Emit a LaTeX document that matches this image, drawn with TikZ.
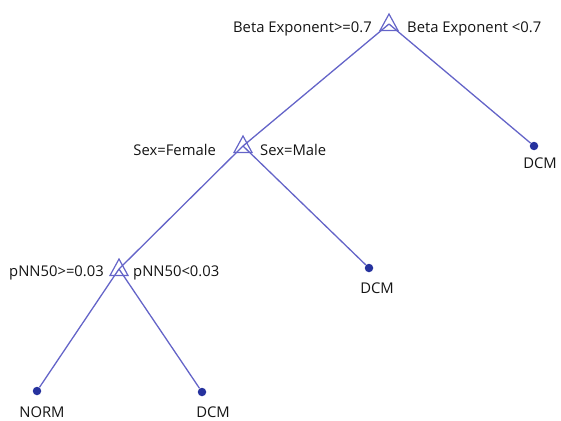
\documentclass[tikz,border=0pt]{standalone}
\usepackage{fontspec}
\setmainfont{Open Sans}
\usetikzlibrary{calc}
\definecolor{edgecol}{RGB}{100,100,200}
\definecolor{dotcol}{RGB}{38,50,158}
\definecolor{txtcol}{RGB}{20,20,20}
\begin{document}
\begin{tikzpicture}[x=1pt,y=-1pt,
  edge/.style={draw=edgecol,line width=1.3pt},
  splitmark/.style={draw=edgecol,line width=1.2pt},
  leaf/.style={circle,fill=dotcol,inner sep=0pt,minimum size=8.5pt},
  lbl/.style={inner sep=0pt,text=txtcol,font=\fontsize{14.8}{17}\selectfont}]
\useasboundingbox (0,0) rectangle (561,420);
% split points
\coordinate (s1) at (389,24);
\coordinate (s2) at (243,146);
\coordinate (s3) at (119,269);
% leaves
\node[leaf] (l1) at (534,146) {};
\node[leaf] (l2) at (369,268) {};
\node[leaf] (l3) at (37,391) {};
\node[leaf] (l4) at (202,392) {};
% connectors
\draw[edge] (s1) -- (s2);
\draw[edge] (s1) -- (l1);
\draw[edge] (s2) -- (s3);
\draw[edge] (s2) -- (l2);
\draw[edge] (s3) -- (l3);
\draw[edge] (s3) -- (l4);
% triangles
\foreach \s in {s1,s2,s3}{
  \draw[splitmark] ($(\s)+(0,-10)$) -- ($(\s)+(-9,6.5)$) -- ($(\s)+(9,6.5)$) -- cycle;
}
% split labels
\node[lbl,anchor=base east] (t1a) at (372,33) {Beta Exponent>=0.7};
\node[lbl,anchor=base west] (t1b) at (407,33) {Beta Exponent <0.7};
\node[lbl,anchor=base east] (t2a) at (216,155) {Sex=Female};
\node[lbl,anchor=base west] (t2b) at (260,155) {Sex=Male};
\node[lbl,anchor=base east] (t3a) at (104,276) {pNN50>=0.03};
\node[lbl,anchor=base west] (t3b) at (133,276) {pNN50<0.03};
% leaf labels
\node[lbl,anchor=base] (d1) at (540,168) {DCM};
\node[lbl,anchor=base] (d2) at (377,293) {DCM};
\node[lbl,anchor=base] (d3) at (42,417) {NORM};
\node[lbl,anchor=base] (d4) at (213,417) {DCM};
\end{tikzpicture}
\end{document}
